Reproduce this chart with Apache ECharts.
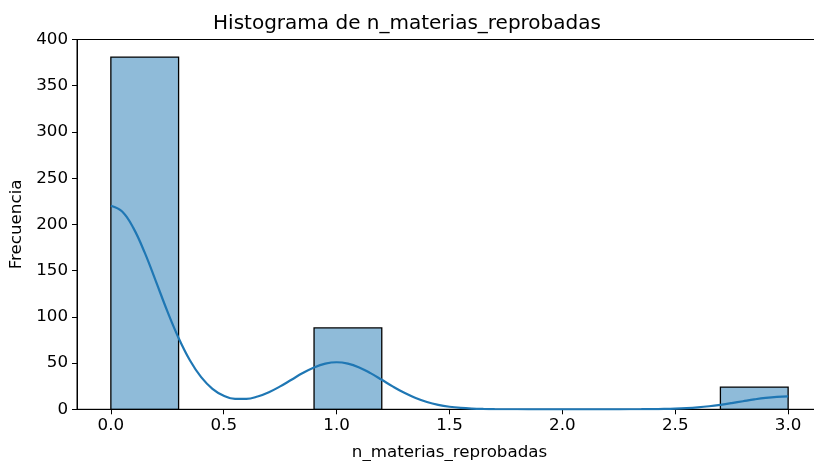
<!DOCTYPE html>
<html><head><meta charset="utf-8">
<script src="https://cdn.jsdelivr.net/npm/echarts@6/dist/echarts.min.js"></script>
<style>html,body{margin:0;padding:0;background:#fff}#c{width:814px;height:461px}</style>
</head><body><div id="c"></div>
<script>
const binStart = [0.0, 0.3, 0.6, 0.9, 1.2, 1.5, 1.8, 2.1, 2.4, 2.7];
const binEnd   = [0.3, 0.6, 0.9, 1.2, 1.5, 1.8, 2.1, 2.4, 2.7, 3.0];
const counts   = [381, 0, 0, 88, 0, 0, 0, 0, 0, 24];
const kdeX = [0,0.05,0.1,0.15,0.2,0.25,0.3,0.35,0.4,0.45,0.5,0.55,0.6,0.65,0.7,0.75,0.8,0.85,0.9,0.95,1.0,1.05,1.1,1.15,1.2,1.25,1.3,1.35,1.4,1.45,1.5,1.55,1.6,1.65,1.7,1.8,1.9,2.0,2.1,2.2,2.3,2.35,2.4,2.45,2.5,2.55,2.6,2.65,2.7,2.75,2.8,2.85,2.9,2.95,3.0];
const kdeY = [220.2,213.9,196.0,169.4,138.1,106.2,77.2,53.1,34.8,22.2,14.7,11.2,11.2,13.8,18.5,24.8,32.0,39.2,45.3,49.4,50.9,49.4,45.3,39.1,31.9,24.5,17.8,12.2,7.9,4.8,2.75,1.49,0.76,0.37,0.17,0.03,0,0,0,0.01,0.05,0.1,0.21,0.41,0.75,1.31,2.15,3.32,4.86,6.69,8.70,10.68,12.35,13.48,13.88];
const xTicks = [0, 0.5, 1.0, 1.5, 2.0, 2.5, 3.0];

const font = 'DejaVu Sans';
const chart = echarts.init(document.getElementById('c'));
chart.setOption({
  animation: false,
  title: { text: 'Histograma de n_materias_reprobadas', left: 'center', top: 9,
    textStyle: { fontFamily: font, fontSize: 20, fontWeight: 'normal', color: '#000' } },
  grid: { left: 77, top: 39.5, bottom: 51.7, right: -8, outerBoundsMode: 'none', containLabel: false,
    show: true, borderColor: '#000', borderWidth: 1 },
  xAxis: {
    type: 'value', min: -0.15, max: 3.15,
    name: 'n_materias_reprobadas', nameLocation: 'middle', nameGap: 34,
    nameTextStyle: { fontFamily: font, fontSize: 16.7, color: '#000', lineHeight: 18 },
    splitLine: { show: false },
    axisLine: { onZero: false, lineStyle: { color: '#000' } },
    axisTick: { show: true, length: 5, lineStyle: { color: '#000' }, customValues: xTicks },
    axisLabel: { fontFamily: font, fontSize: 16.7, color: '#000', margin: 8, customValues: xTicks,
      formatter: v => v.toFixed(1) }
  },
  yAxis: {
    type: 'value', min: 0, max: 400, interval: 50,
    name: 'Frecuencia', nameLocation: 'middle', nameGap: 50,
    nameTextStyle: { fontFamily: font, fontSize: 16.7, color: '#000' },
    splitLine: { show: false },
    axisLine: { show: true, onZero: false, lineStyle: { color: '#000' } },
    axisTick: { show: true, length: 5, lineStyle: { color: '#000' } },
    axisLabel: { fontFamily: font, fontSize: 16.7, color: '#000', margin: 9 }
  },
  series: [
    {
      type: 'custom',
      data: counts.map((c, i) => [binStart[i], binEnd[i], c]),
      renderItem: (params, api) => {
        const c = api.value(2);
        if (!c) return null;
        const p0 = api.coord([api.value(0), c]);
        const p1 = api.coord([api.value(1), 0]);
        return { type: 'rect', shape: { x: p0[0], y: p0[1], width: p1[0] - p0[0], height: p1[1] - p0[1] },
          style: { fill: 'rgba(31,119,180,0.5)', stroke: '#000', lineWidth: 1.3 } };
      },
      encode: { x: [0, 1], y: 2 }
    },
    {
      type: 'line', data: kdeX.map((x, i) => [x, kdeY[i]]), smooth: 0.4, showSymbol: false,
      lineStyle: { color: '#1f77b4', width: 2.2 }
    }
  ]
});
</script></body></html>
